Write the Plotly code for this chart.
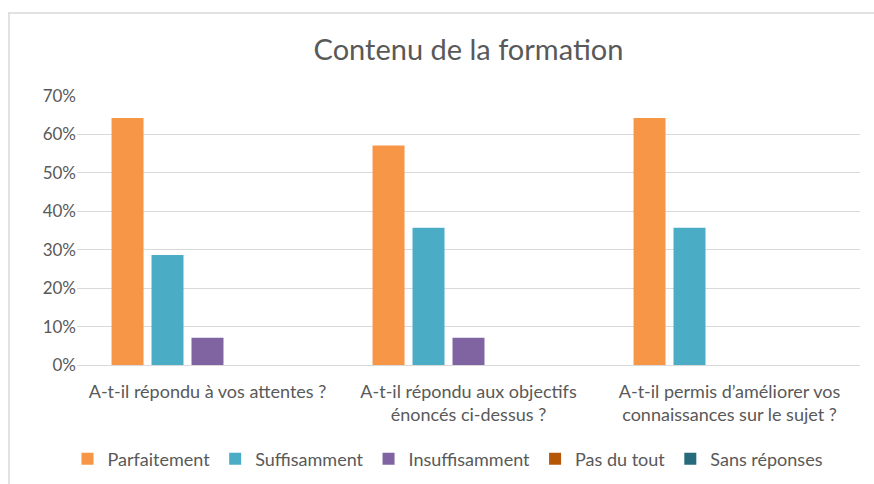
import plotly.graph_objects as go

categories = [
    "A-t-il répondu à vos attentes ?",
    "A-t-il répondu aux objectifs<br>énoncés ci-dessus ?",
    "A-t-il permis d’améliorer vos<br>connaissances sur le sujet ?",
]
series_names = ["Parfaitement", "Suffisamment", "Insuffisamment", "Pas du tout", "Sans réponses"]
parfaitement = [0.643, 0.571, 0.643]
suffisamment = [0.286, 0.357, 0.357]
insuffisamment = [0.071, 0.071, 0.0]
pas_du_tout = [0.0, 0.0, 0.0]
sans_reponses = [0.0, 0.0, 0.0]
series_values = [parfaitement, suffisamment, insuffisamment, pas_du_tout, sans_reponses]
colors = ["#F79646", "#4BACC6", "#8064A2", "#B65708", "#276A7C"]
y_ticks = [0, 0.1, 0.2, 0.3, 0.4, 0.5, 0.6, 0.7]
y_tick_labels = ["0%", "10%", "20%", "30%", "40%", "50%", "60%", "70%"]

FONT = "Lato, Open Sans, sans-serif"
GREY = "#595959"

fig = go.Figure()
for name, vals, col in zip(series_names, series_values, colors):
    fig.add_trace(go.Bar(name=name, x=categories, y=vals, marker_color=col,
                         marker_line_width=0))

W, H = 874, 484
ml, mr, mt, mb = 77, 14, 96, 119
pw, ph = W - ml - mr, H - mt - mb

def px_x(px):
    return (px - ml) / pw

def px_y(py):
    return (H - mb - py) / ph

fig.update_layout(
    width=W, height=H,
    margin=dict(l=ml, r=mr, t=mt, b=mb, autoexpand=False),
    paper_bgcolor="white", plot_bgcolor="white",
    barmode="group", bargap=0.234, bargroupgap=0.2,
    font=dict(family=FONT, color=GREY, size=17),
    title=dict(text="Contenu de la formation", x=0.5, xref="paper", xanchor="center",
               y=1 - 50 / H, yanchor="middle",
               font=dict(size=29, color=GREY, family=FONT)),
    showlegend=True,
    legend=dict(orientation="h", x=px_x(448), xanchor="center", y=px_y(459), yanchor="middle",
                font=dict(size=18, color=GREY), itemwidth=30, traceorder="normal",
                itemsizing="constant"),
    xaxis=dict(showgrid=False, showline=True, linecolor="#d9d9d9", linewidth=1,
               ticks="", ticklabelstandoff=10, tickfont=dict(size=18, color=GREY)),
    yaxis=dict(range=[0, 0.7], tickvals=y_ticks, ticktext=y_tick_labels,
               showgrid=True, gridcolor="#d9d9d9", gridwidth=1, zeroline=False,
               showline=False, ticks="", ticklen=0,
               tickfont=dict(size=17, color=GREY)),
    shapes=[
        dict(type="line", xref="paper", yref="paper", x0=px_x(8), x1=px_x(874),
             y0=px_y(13), y1=px_y(13), line=dict(color="#d9d9d9", width=1.5)),
        dict(type="line", xref="paper", yref="paper", x0=px_x(9), x1=px_x(9),
             y0=px_y(13), y1=px_y(484), line=dict(color="#d9d9d9", width=1.5)),
    ],
)

fig.write_html("out.html", config={"displayModeBar": False},
               post_script="document.body.style.margin='0';")
